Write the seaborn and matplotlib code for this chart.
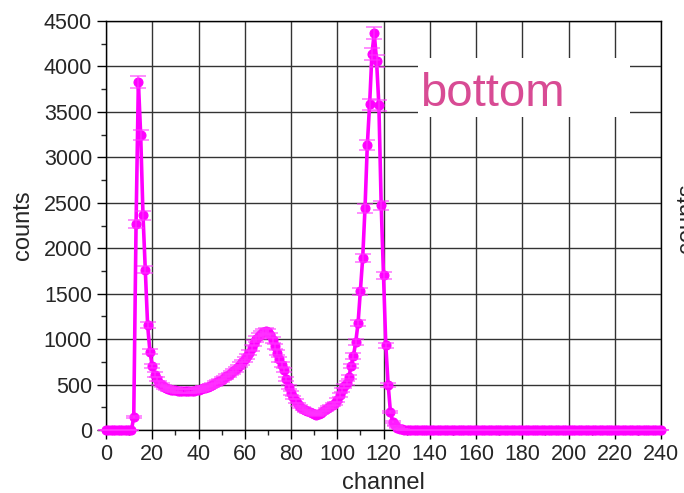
import numpy as np
import pandas as pd
import matplotlib
matplotlib.use("Agg")
import matplotlib.pyplot as plt
from matplotlib.ticker import MultipleLocator
import seaborn as sns

# Spectrum: channel number and counts per channel
channels = list(range(0, 241))

counts_low = [0] * 12  # channels 0-11
counts_peak1 = [140, 2267, 3830, 3243, 2362, 1764, 1152, 862, 704]  # 12-20
counts_valley = [
    610, 560, 520, 495, 475, 462, 452, 445, 440, 436,   # 21-30
    432, 430, 429, 428, 428, 429, 431, 434, 438, 442,   # 31-40
    450, 458, 466, 476, 488, 500, 512, 525, 540, 555,   # 41-50
    572, 590, 607, 625, 645, 668, 692, 718, 748, 780,   # 51-60
    810, 850, 900, 960, 1000, 1030, 1060, 1080, 1090, 1080,  # 61-70
    1040, 990, 920, 850, 780, 720, 660, 560, 470, 410,  # 71-80
    360, 320, 285, 255, 235, 218, 205, 195, 185, 175,   # 81-90
    168, 175, 190, 210, 228, 245, 262, 280, 295, 330,   # 91-100
    385, 440, 480, 520, 580,                            # 101-105
]
counts_peak2 = [
    705, 815, 970, 1175, 1525, 1890, 2440, 3135, 3585, 4140,  # 106-115
    4365, 4060, 3575, 2475, 1700, 930, 500, 200, 90, 50,      # 116-125
    25, 12, 6, 3, 1,                                          # 126-130
]
counts_tail = [0] * 110  # channels 131-240

counts = counts_low + counts_peak1 + counts_valley + counts_peak2 + counts_tail

xticks = list(range(0, 241, 20))
yticks = list(range(0, 4501, 500))

df = pd.DataFrame({"channel": channels, "counts": counts})
df["err"] = np.sqrt(df["counts"])  # Poisson uncertainty

sns.set_style("white")
plt.rcParams["font.family"] = ["Liberation Sans", "DejaVu Sans"]

fig = plt.figure(figsize=(6.84, 4.93), dpi=100)
ax = fig.add_axes([106 / 684, 1 - 430 / 493, 555 / 684, 409 / 493])

# grid behind the data
ax.set_axisbelow(True)
ax.grid(True, which="major", color="#333333", linewidth=1.0)

magenta = "#ff00ff"
sns.lineplot(data=df, x="channel", y="counts", ax=ax, color=magenta,
             linewidth=2.6, marker="o", markersize=6.5,
             markeredgecolor=magenta, markerfacecolor=magenta,
             clip_on=False, zorder=3)
ax.errorbar(df["channel"], df["counts"], yerr=df["err"], fmt="none",
            ecolor=(1.0, 0.2, 1.0, 0.65), elinewidth=1.2, capsize=5.5,
            capthick=1.2, clip_on=False, zorder=4)

ax.set_xlim(0, 240)
ax.set_ylim(0, 4500)
ax.set_xticks(xticks)
ax.set_yticks(yticks)
ax.xaxis.set_minor_locator(MultipleLocator(10))
ax.yaxis.set_minor_locator(MultipleLocator(250))
ax.tick_params(axis="both", which="major", direction="out", length=6.5,
               width=1.0, labelsize=15.5, pad=3.5, color="black",
               bottom=True, left=True, top=False, right=False)
ax.tick_params(axis="both", which="minor", direction="out", length=3.6,
               width=1.0, bottom=True, left=True, top=False, right=False)

for s in ax.spines.values():
    s.set_color("black")
    s.set_linewidth(1.0)

ax.set_xlabel("channel", fontsize=17, labelpad=5)
ax.set_ylabel("counts", fontsize=17, labelpad=7)

# white label panel with the detector name
ax.add_patch(plt.Rectangle((0.562, 0.765), 0.382, 0.145,
                           transform=ax.transAxes, facecolor="white",
                           edgecolor="none", zorder=5))
ax.text(0.566, 0.792, "bottom", transform=ax.transAxes, fontsize=34,
        color="#d84b94", ha="left", va="baseline", zorder=6)

# neighbouring panel's axis label at the figure edge
fig.text(676 / 684, 1 - 218 / 493, "counts", rotation=90, fontsize=17,
         ha="left", va="center")

fig.savefig("out.png", dpi=100)
